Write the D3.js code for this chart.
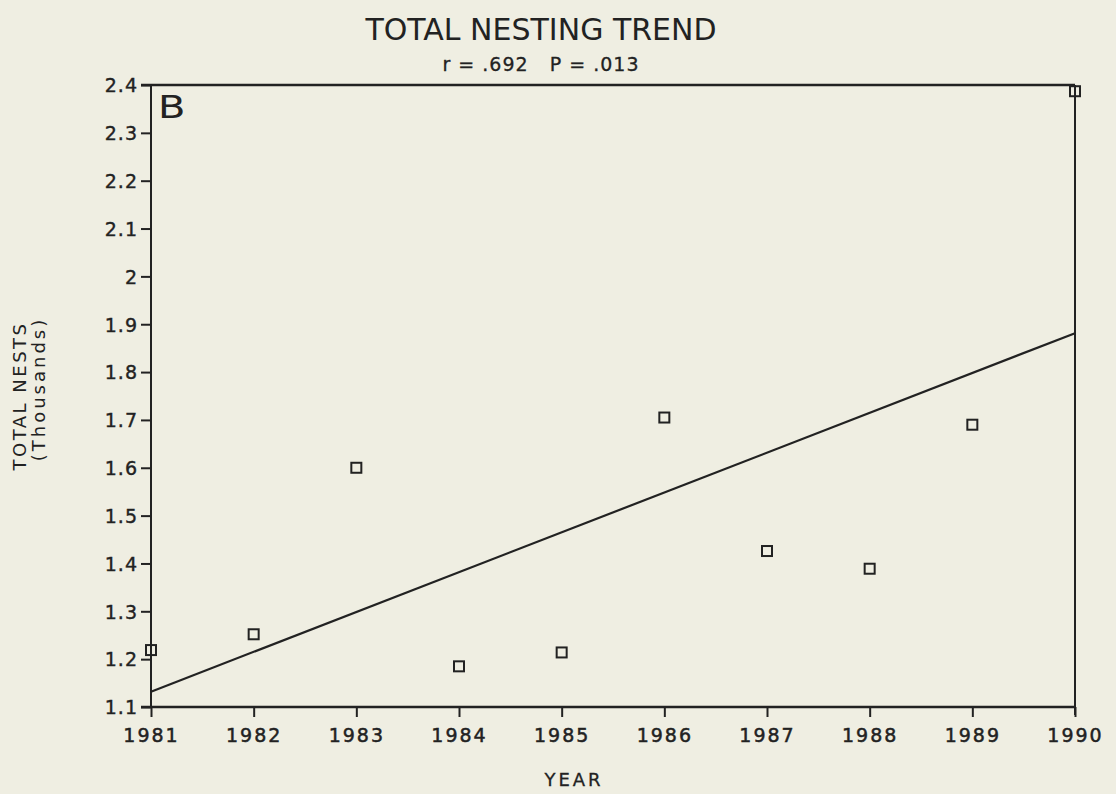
<!DOCTYPE html>
<html><head><meta charset="utf-8">
<script src="https://cdn.jsdelivr.net/npm/d3@7"></script>
<style>
html,body{margin:0;padding:0;background:#efeee2;}
svg{display:block;}
text{font-family:"DejaVu Sans",sans-serif;fill:#222;}
</style></head>
<body>
<svg id="chart" width="1116" height="794"></svg>
<script>
const years = [1981,1982,1983,1984,1985,1986,1987,1988,1989,1990];
const nests = [1.219,1.252,1.600,1.185,1.214,1.705,1.426,1.389,1.690,2.387];
const yTicks = [1.1,1.2,1.3,1.4,1.5,1.6,1.7,1.8,1.9,2,2.1,2.2,2.3,2.4];
const title = "TOTAL NESTING TREND";
const subtitle = "r = .692   P = .013";

const svg = d3.select("#chart");
const L = 151, R = 1075, T = 85, B = 707;
const x = d3.scaleLinear().domain([1981,1990]).range([L,R]);
const y = d3.scaleLinear().domain([1.1,2.4]).range([B,T]);
const ink = "#222";

// least squares fit
const mx = d3.mean(years), my = d3.mean(nests);
const slope = d3.sum(years,(v,i)=>(v-mx)*(nests[i]-my)) / d3.sum(years,v=>(v-mx)*(v-mx));
const fit = v => my + slope*(v-mx);

// axes
const yAxis = d3.axisLeft(y).tickValues(yTicks).tickSize(10).tickFormat(d=>String(d));
const gy = svg.append("g").attr("transform",`translate(${L},0)`).call(yAxis);
gy.select(".domain").attr("stroke",ink).attr("stroke-width",2).attr("d",`M0,${T}V${B}`);
gy.selectAll(".tick line").attr("stroke",ink).attr("stroke-width",2);
gy.selectAll(".tick text").attr("x",-13).attr("dy","0.36em").style("font-size","19px")
  .style("letter-spacing","1px").attr("fill",ink).attr("stroke",ink).attr("stroke-width",0.4);

const xAxis = d3.axisBottom(x).tickValues(years).tickSize(10).tickFormat(d3.format("d"));
const gx = svg.append("g").attr("transform",`translate(0,${B})`).call(xAxis);
gx.select(".domain").attr("stroke",ink).attr("stroke-width",2.5).attr("d",`M${L-10},0H${R}`);
gx.selectAll(".tick line").attr("stroke",ink).attr("stroke-width",2);
gx.selectAll(".tick text").attr("y",22).attr("dy","0.71em").style("font-size","19px")
  .style("letter-spacing","2px").attr("fill",ink).attr("stroke",ink).attr("stroke-width",0.5);

// frame top & right
svg.append("line").attr("x1",L-10).attr("x2",R).attr("y1",T).attr("y2",T).attr("stroke",ink).attr("stroke-width",2.5);
svg.append("line").attr("x1",R).attr("x2",R).attr("y1",T).attr("y2",B+8).attr("stroke",ink).attr("stroke-width",2);

// regression line
svg.append("line")
  .attr("x1",x(1981)).attr("y1",y(fit(1981)))
  .attr("x2",x(1990)).attr("y2",y(fit(1990)))
  .attr("stroke",ink).attr("stroke-width",2.2);

// points
svg.append("g").selectAll("rect").data(years).join("rect")
  .attr("x",d=>x(d)-5).attr("y",(d,i)=>y(nests[i])-5)
  .attr("width",10).attr("height",10)
  .attr("fill","none").attr("stroke",ink).attr("stroke-width",2);

// titles
svg.append("text").attr("x",541).attr("y",40).attr("text-anchor","middle")
  .style("font-size","30px").style("font-weight","normal").style("letter-spacing","0px").text(title);
svg.append("text").attr("x",541).attr("y",71).attr("text-anchor","middle")
  .style("font-size","19px").style("letter-spacing","1px").attr("xml:space","preserve")
  .attr("stroke",ink).attr("stroke-width",0.3).text(subtitle);
svg.append("text").attr("transform","translate(158,118) scale(1.25,1)")
  .style("font-size","32px").text("B");
svg.append("text").attr("x",574).attr("y",786).attr("text-anchor","middle")
  .style("font-size","18px").style("letter-spacing","3px").attr("stroke",ink).attr("stroke-width",0.3).text("YEAR");
svg.append("text").attr("transform","translate(26,396) rotate(-90)").attr("text-anchor","middle")
  .style("font-size","18px").style("letter-spacing","2.5px").text("TOTAL NESTS");
svg.append("text").attr("transform","translate(45,389) rotate(-90)").attr("text-anchor","middle")
  .style("font-size","18px").style("letter-spacing","3px").text("(Thousands)");
</script>
</body></html>
